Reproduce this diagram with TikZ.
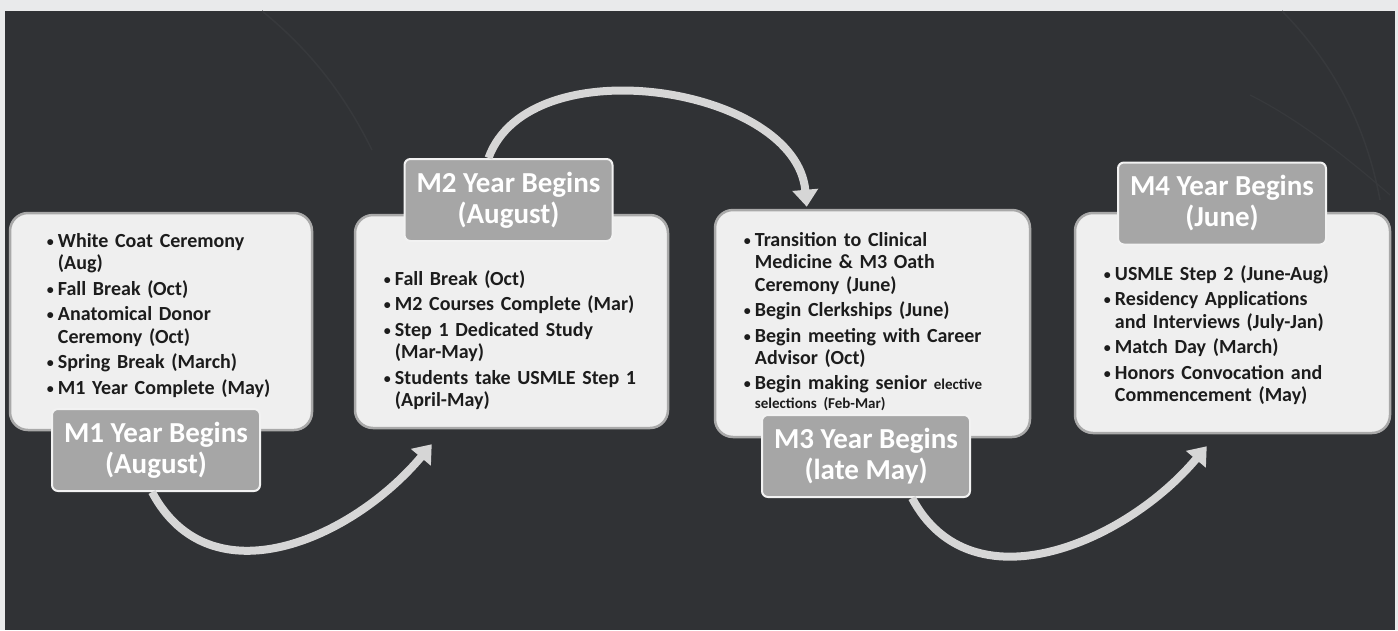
\documentclass[tikz,border=0pt]{standalone}
\usepackage{fontspec}
\setmainfont{Carlito}
\usetikzlibrary{positioning,arrows.meta}

\definecolor{pagebg}{HTML}{E9EAEB}
\definecolor{panelbg}{HTML}{303235}
\definecolor{streak}{HTML}{37393C}
\definecolor{boxfill}{HTML}{EFEFEF}
\definecolor{boxedge}{HTML}{A9A9A9}
\definecolor{labelfill}{HTML}{A6A6A6}
\definecolor{labeledge}{HTML}{F2F2F2}
\definecolor{arrowgray}{HTML}{D6D6D6}
\definecolor{itemtext}{HTML}{1C1C1C}

% one bullet item, wrapped lines hang under the text
\newcommand{\itm}[1]{\par\hangindent=11pt\hangafter=1\noindent
	\makebox[11pt][l]{\raisebox{1pt}{\fontsize{14}{14}\selectfont\textbullet}}#1}

\tikzset{
	x=1pt, y=1pt,
	yearbox/.style={draw=boxedge, line width=2.5pt, fill=boxfill, rounded corners=18pt, inner sep=0pt}, % the white boxes
	yearlabel/.style={draw=labeledge, line width=2pt, fill=labelfill, rounded corners=6pt, text=white,
		font=\bfseries\fontsize{29}{31}\selectfont, align=center, minimum width=208pt, minimum height=82pt, inner sep=0pt},
	itemlist/.style={inner sep=0pt, text width=265pt, align=left, text=itemtext,
		font=\bfseries\fontsize{20}{22.5}\selectfont\setlength{\parskip}{3pt}},
	flow/.style={draw=arrowgray, line width=8pt, -{Triangle[length=17pt,width=25pt]}}, % the curved arrows
	node distance=0pt,
}

\begin{document}
\begin{tikzpicture}
	\useasboundingbox (0,0) rectangle (1398,-630);
	\fill[pagebg] (0,0) rectangle (1398,-630);
	\fill[panelbg] (5,-11) rectangle (1395,-630);
	% faint streaks in the background
	\draw[streak, line width=1.5pt] (262,-11) .. controls (310,-50) and (345,-95) .. (372,-150);
	\draw[streak, line width=1.5pt] (1282,-11) .. controls (1330,-60) and (1365,-120) .. (1380,-200);
	\draw[streak, line width=1.2pt] (1250,-95) .. controls (1300,-120) and (1350,-160) .. (1390,-195);
	
	% year boxes
	\node[yearbox, minimum width=302pt, minimum height=217pt] (box1) at (161,-321.5) {};
	\node[yearbox, minimum width=313pt, minimum height=213pt] (box2) at (511.5,-321.5) {};
	\node[yearbox, minimum width=315pt, minimum height=227pt] (box3) at (872.5,-323.5) {};
	\node[yearbox, minimum width=315pt, minimum height=220pt] (box4) at (1232.5,-323) {};
	
	% events of each year
	\node[itemlist, below right=10pt and 38pt of box1.north west] (list1) {
		\itm{White Coat Ceremony\newline (Aug)}
		\itm{Fall Break (Oct)}
		\itm{Anatomical Donor\newline Ceremony (Oct)}
		\itm{Spring Break (March)}
		\itm{M1 Year Complete (May)}\par};
	\node[itemlist, below right=46pt and 30pt of box2.north west] (list2) {
		\itm{Fall Break (Oct)}
		\itm{M2 Courses Complete (Mar)}
		\itm{Step 1 Dedicated Study\newline (Mar-May)}
		\itm{Students take USMLE Step 1\newline (April-May)}\par};
	\node[itemlist, below right=12pt and 30pt of box3.north west] (list3) {
		\itm{Transition to Clinical\newline Medicine \& M3 Oath\newline Ceremony (June)}
		\itm{Begin Clerkships (June)}
		\itm{Begin meeting with Career\newline Advisor (Oct)}
		\par\vspace{3pt}
		\itm{Begin making senior {\fontsize{15}{19}\selectfont elective\newline selections (Feb-Mar)\par}}};
	\node[itemlist, below right=43pt and 30pt of box4.north west] (list4) {
		\itm{USMLE Step 2 (June-Aug)}
		\itm{Residency Applications\newline and Interviews (July-Jan)}
		\itm{Match Day (March)}
		\itm{Honors Convocation and\newline Commencement (May)}\par};
	
	% start of each year
	\node[yearlabel] (lab1) at (156,-450) {M1 Year Begins\\(August)};
	\node[yearlabel] (lab2) at (508.5,-200) {M2 Year Begins\\(August)};
	\node[yearlabel] (lab3) at (866,-456) {M3 Year Begins\\(late May)};
	\node[yearlabel] (lab4) at (1222,-203.5) {M4 Year Begins\\(June)};
	
	\draw[flow] ([xshift=-4pt]lab1.south) to[out=-62,in=-130,looseness=1.12] ([xshift=78pt,yshift=-15pt]box2.south west);
	\draw[flow] ([xshift=-20pt]lab2.north) to[out=70,in=95,looseness=0.96] ([xshift=93pt,yshift=2pt]box3.north west);
	\draw[flow] ([xshift=46pt]lab3.south) to[out=-62,in=-130,looseness=1.08] ([xshift=133pt,yshift=-12pt]box4.south west);
\end{tikzpicture}
\end{document}
